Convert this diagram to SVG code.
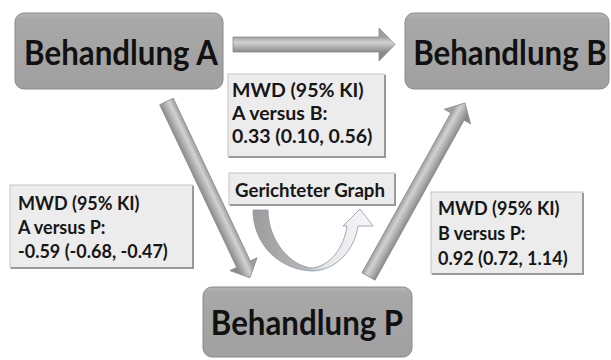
<svg xmlns="http://www.w3.org/2000/svg" width="611" height="360" viewBox="0 0 611 360">
<defs>
<style>
.node rect{fill:url(#nodeG);stroke:#8a8a8a;stroke-width:1}
.node text{font-family:Lato,"Liberation Sans",sans-serif;font-weight:700;font-size:34px;fill:#111;text-anchor:middle}
.lbl rect{fill:#ececec;stroke:#c4c4c4;stroke-width:1}
.lbl path{fill:none;stroke:#9a9a9a;stroke-width:2}
.lbl text{font-family:Lato,"Liberation Sans",sans-serif;font-weight:700;font-size:18px;fill:#161616}
#labelAB text{font-size:19.5px}
.arr{fill:url(#arrG);stroke:#8c8c8c;stroke-width:0.8}
</style>
<linearGradient id="nodeG" x1="0" y1="0" x2="0" y2="1">
<stop offset="0" stop-color="#b4b4b4"/>
<stop offset="0.08" stop-color="#a8a8a8"/>
<stop offset="1" stop-color="#a0a0a0"/>
</linearGradient>
<linearGradient id="arrG" gradientUnits="userSpaceOnUse" x1="0" y1="-7.5" x2="0" y2="7.5">
<stop offset="0" stop-color="#9e9e9e"/>
<stop offset="0.35" stop-color="#d2d2d2"/>
<stop offset="0.65" stop-color="#b2b2b2"/>
<stop offset="1" stop-color="#8a8a8a"/>
</linearGradient>
<linearGradient id="uG" gradientUnits="userSpaceOnUse" x1="253" y1="0" x2="373" y2="0">
<stop offset="0" stop-color="#9c9c9c"/>
<stop offset="0.45" stop-color="#b8b8b8"/>
<stop offset="0.6" stop-color="#e4e6e8"/>
<stop offset="1" stop-color="#f6f7f9"/>
</linearGradient>
</defs>
<rect width="611" height="360" fill="#ffffff"/>

<g id="connectors">
<polygon class="arr" transform="translate(233,44.5)" points="0,-7.5 146,-7.5 146,-16.5 162,0 146,16.5 146,7.5 0,7.5"/>
<polygon class="arr" transform="translate(166.5,101.5) rotate(64.68)" points="0,-7.5 180,-7.5 180,-15 195,0 180,15 180,7.5 0,7.5"/>
<polygon class="arr" transform="translate(368.5,276.5) rotate(-60.92)" points="0,-7.5 183,-7.5 183,-15 198.5,0 183,15 183,7.5 0,7.5"/>
<path d="M253,210 C253,245 280,270 312,271 C335,271 355,250 358,226 L373,226 L360,209 L343,226 L347,226 C344,248 330,266 312,268 C290,266 268,240 268,210 Z" fill="url(#uG)" stroke="#8c98a6" stroke-width="0.8"/>
</g>

<g id="nodeA" class="node">
<rect x="15" y="13" width="208" height="76" rx="9"/>
<text transform="translate(121,65) scale(0.92,1)">Behandlung A</text>
</g>
<g id="nodeB" class="node">
<rect x="405" y="13" width="204" height="76" rx="9"/>
<text transform="translate(510,65) scale(0.92,1)">Behandlung B</text>
</g>
<g id="nodeP" class="node">
<rect x="203" y="287" width="209" height="70" rx="9"/>
<text transform="translate(307,335) scale(0.92,1)">Behandlung P</text>
</g>

<g id="labelAB" class="lbl">
<rect x="228" y="74" width="157" height="83"/>
<path d="M385,75 V157 H229"/>
<text x="232" y="97">MWD (95% KI)</text>
<text x="232" y="120">A versus B:</text>
<text x="232" y="143">0.33 (0.10, 0.56)</text>
</g>
<g id="labelAP" class="lbl">
<rect x="10" y="185" width="183" height="83"/>
<path d="M193,186 V268 H11"/>
<text x="18" y="210">MWD (95% KI)</text>
<text x="18" y="234">A versus P:</text>
<text x="18" y="258">-0.59 (-0.68, -0.47)</text>
</g>
<g id="labelBP" class="lbl">
<rect x="431" y="192" width="152" height="82"/>
<path d="M583,193 V274 H432"/>
<text x="438" y="215">MWD (95% KI)</text>
<text x="438" y="240">B versus P:</text>
<text x="438" y="265">0.92 (0.72, 1.14)</text>
</g>
<g id="labelGraph" class="lbl">
<rect x="229" y="173" width="166" height="32"/>
<path d="M395,174 V205 H230"/>
<text x="235" y="197" textLength="150" lengthAdjust="spacingAndGlyphs">Gerichteter Graph</text>
</g>
</svg>
